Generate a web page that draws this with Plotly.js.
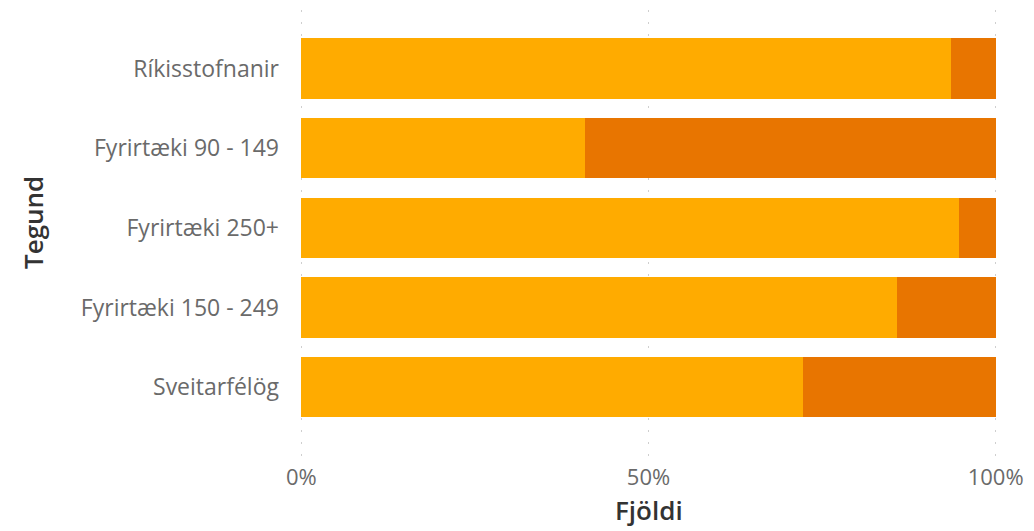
<!DOCTYPE html>
<html>
<head>
<meta charset="utf-8">
<script src="https://cdn.plot.ly/plotly-3.0.1.min.js"></script>
<style>html,body{margin:0;padding:0;background:#fff;}#chart{width:1034px;height:531px;}</style>
</head>
<body>
<div id="chart"></div>
<script>
const categories = ["Ríkisstofnanir", "Fyrirtæki 90 - 149", "Fyrirtæki 250+", "Fyrirtæki 150 - 249", "Sveitarfélög"];
const seriesA = [93.6, 40.9, 94.7, 85.8, 72.2];
const seriesB = [6.4, 59.1, 5.3, 14.2, 27.8];
const xTickVals = [0, 50, 100];
const xTickText = ["0%", "50%", "100%"];

const font = "'Open Sans', 'Noto Sans', sans-serif";

const traces = [
  {type: "bar", orientation: "h", y: categories, x: seriesA, marker: {color: "#FFAB00"}, name: "A", hoverinfo: "x+y"},
  {type: "bar", orientation: "h", y: categories, x: seriesB, marker: {color: "#E87500"}, name: "B", hoverinfo: "x+y"}
];

const layout = {
  width: 1034, height: 531,
  margin: {l: 300, r: 37, t: 10, b: 69},
  paper_bgcolor: "#fff", plot_bgcolor: "#fff",
  barmode: "stack",
  bargap: 0.245,
  showlegend: false,
  font: {family: font, color: "#666"},
  xaxis: {
    range: [-0.2, 100.2],
    tickvals: xTickVals, ticktext: xTickText,
    showgrid: true, gridcolor: "#cfcfcf", griddash: "2px,10px", gridwidth: 1,
    zeroline: false, showline: false,
    tickfont: {size: 22, color: "#6a6a6a", family: font},
    ticks: "", ticklabelstandoff: 0,
    fixedrange: true
  },
  yaxis: {
    type: "category",
    categoryorder: "array", categoryarray: categories,
    range: [4.94, -0.735],
    showgrid: false, zeroline: false, showline: false,
    ticks: "", ticklabelstandoff: 20,
    tickfont: {size: 23, color: "#6a6a6a", family: font},
    fixedrange: true
  },
  annotations: [
    {text: "Tegund", xref: "paper", yref: "paper", x: 0, y: 0, showarrow: false,
     xanchor: "center", yanchor: "middle", textangle: -90,
     font: {size: 26, color: "#333", family: font, weight: 600}},
    {text: "Fjöldi", xref: "paper", yref: "paper", x: 0.5, y: 0, showarrow: false,
     xanchor: "center", yanchor: "middle",
     font: {size: 26, color: "#333", family: font, weight: 600}}
  ]
};

// position titles in pixels
const plotW = 1034 - 300 - 37, plotH = 531 - 10 - 69;
layout.annotations[0].x = (33 - 300) / plotW;
layout.annotations[0].y = (531 - 69 - 223) / plotH;
layout.annotations[1].x = (649 - 300) / plotW;
layout.annotations[1].y = (531 - 69 - 510) / plotH;

Plotly.newPlot("chart", traces, layout, {displayModeBar: false, staticPlot: true});
</script>
</body>
</html>
